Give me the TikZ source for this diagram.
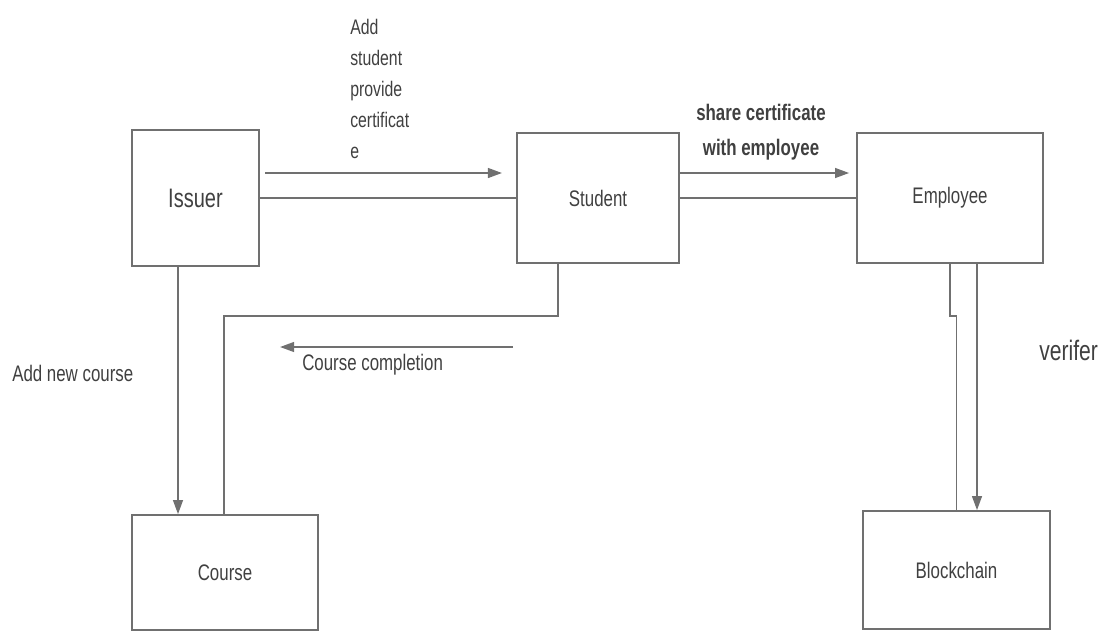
\documentclass[tikz,border=0pt]{standalone}
\usepackage{fontspec}
\setmainfont{Liberation Sans}[FakeStretch=0.75]
\usetikzlibrary{arrows.meta, calc}
\definecolor{linegray}{HTML}{707070}
\definecolor{textgray}{HTML}{404040}
\tikzstyle{every picture} = [x=0.025cm, y=-0.025cm]
\tikzstyle{block} = [rectangle, draw=linegray, line width=1.2pt, inner sep=0pt, text=textgray, font=\fontsize{16}{19}\selectfont]
\tikzstyle{note} = [inner sep=0pt, text=textgray, font=\fontsize{16}{19}\selectfont]
\tikzstyle{flow} = [draw=linegray, line width=1.2pt]
\tikzstyle{tip} = [-{Triangle[length=10pt,width=7pt]}]

\begin{document}
\begin{tikzpicture}
            \useasboundingbox (0,0) rectangle (1102,632);

            \node (issuer) at(195.5,198) [block, minimum width=3.175cm, minimum height=3.4cm, font=\fontsize{19}{22}\selectfont] {Issuer};
            \node (student) at(598,198) [block, minimum width=4.05cm, minimum height=3.25cm] {Student};
            \node (employee) at(950,198) [block, minimum width=4.65cm, minimum height=3.25cm] {Employee};
            \node (course) at(225,572.5) [block, minimum width=4.65cm, minimum height=2.875cm] {Course};
            \node (blockchain) at(956.5,570) [block, minimum width=4.675cm, minimum height=2.95cm] {Blockchain};

            \coordinate (give start) at (265,173);
            \coordinate (give end) at (502,173);
            \coordinate (bend) at (224,316);
            \coordinate (done start) at (513,347);
            \coordinate (done end) at (280,347);

            \draw[flow, tip] (give start) -- (give end);
            \draw[flow] (issuer) -- (student);
            \draw[flow, tip] ($(student.east)+(0,-25)$) -- ($(employee.west)+(-7,-25)$);
            \draw[flow] (student) -- (employee);
            \draw[flow, tip] ($(issuer.south)+(-17.5,0)$) -- ($(course.north)+(-47,0)$);
            \draw[flow] ($(student.south)+(-40,0)$) |- (bend) -- (bend |- course.north);
            \draw[flow, tip] (done start) -- (done end);
            \draw[flow] (employee.south) -- ++(0,52) -| (blockchain.north);
            \draw[flow, tip] ($(employee.south)+(27,0)$) -- ($(blockchain.north)+(20.5,0)$);

            \node (add student) at(350,19) [note, anchor=north west, align=left, font=\fontsize{15}{22}\selectfont] {Add\\student\\provide\\certificat\\e};
            \node (share) at(761,132.5) [note, align=center, font=\bfseries\fontsize{16}{25}\selectfont] {share certificate\\with employee};
            \node (add course) at(12,373) [note, anchor=west] {Add new course};
            \node (completion) at(302,365) [note, anchor=west] {Course completion};
            \node (verifer) at(1039,350) [note, anchor=west, font=\fontsize{20}{24}\selectfont] {verifer};

\end{tikzpicture}
\end{document}
